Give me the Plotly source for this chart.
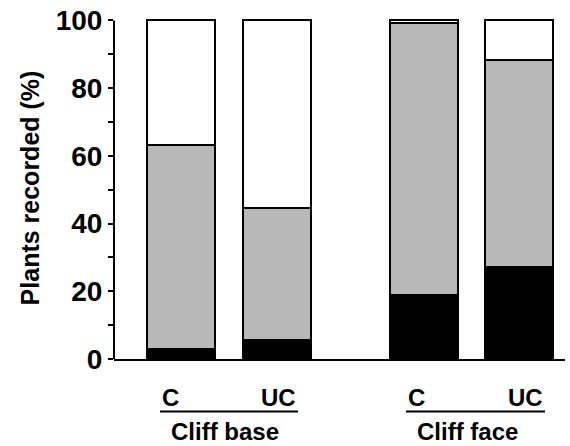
import plotly.graph_objects as go

# Data (percent of plants recorded)
groups = ["Cliff base", "Cliff base", "Cliff face", "Cliff face"]
sub_labels = ["C", "UC", "C", "UC"]
black_vals = [2.9, 5.5, 19.0, 27.2]
grey_vals = [60.4, 39.2, 80.2, 61.0]
white_vals = [36.7, 55.3, 0.8, 11.8]

y_ticks = [0, 20, 40, 60, 80, 100]

# layout positions (x coordinates of bars)
xpos = [0.71, 1.716, 3.263, 4.263]
bw = 0.716

fig = go.Figure()
for vals, col in [(black_vals, "#000000"), (grey_vals, "#b8b8b8"), (white_vals, "#ffffff")]:
    fig.add_trace(go.Bar(x=xpos, y=vals, width=bw, marker=dict(color=col, line=dict(color="#000000", width=2)),
                         showlegend=False, hoverinfo="skip"))

FONT = "Liberation Sans, Arial, sans-serif"

fig.update_layout(
    barmode="stack",
    width=570, height=446,
    margin=dict(l=114, r=5, t=14, b=87),
    plot_bgcolor="white", paper_bgcolor="white",
    xaxis=dict(range=[0, 4.747], showticklabels=False, ticks="", showgrid=False, zeroline=False,
               showline=True, linecolor="black", linewidth=2),
    yaxis=dict(range=[0, 101], showgrid=False, zeroline=False, showline=False,
               tickmode="array", tickvals=y_ticks, ticktext=[str(v) for v in y_ticks],
               ticks="outside", ticklen=5, tickwidth=2, tickcolor="black",
               tickfont=dict(family=FONT, size=28, color="black", weight="bold"),
               minor=dict(tickvals=[10, 30, 50, 70, 90], ticks="outside", ticklen=5, tickwidth=2, tickcolor="black"),
               title=dict(text="Plants recorded (%)", font=dict(family=FONT, size=25, color="black", weight="bold"),
                          standoff=8)),
)

# y axis line from 0 to 100
fig.add_shape(type="line", xref="paper", yref="y", x0=0, x1=0, y0=0, y1=100, line=dict(color="black", width=2))

def px2x(px):
    return (px - 114) / 95.0

def py2p(py):
    return (359 - py) / 345.0

# group underlines and labels
group_spans = [(160, 298, "Cliff base", 225), (406, 545, "Cliff face", 467)]
for i, (a, b, name, c) in enumerate(group_spans):
    fig.add_shape(type="line", xref="x", yref="paper", x0=px2x(a), x1=px2x(b), y0=py2p(412), y1=py2p(412),
                  line=dict(color="black", width=2))
    fig.add_annotation(x=px2x(c), y=py2p(432), xref="x", yref="paper", text=name, showarrow=False,
                       font=dict(family=FONT, size=24, color="black", weight="bold"), xanchor="center", yanchor="middle")
    fig.add_annotation(x=px2x(a), y=py2p(398), xref="x", yref="paper", text=sub_labels[2 * i], showarrow=False,
                       font=dict(family=FONT, size=24, color="black", weight="bold"), xanchor="left", yanchor="middle")
    fig.add_annotation(x=px2x(b), y=py2p(398), xref="x", yref="paper", text=sub_labels[2 * i + 1], showarrow=False,
                       font=dict(family=FONT, size=24, color="black", weight="bold"), xanchor="right", yanchor="middle")

fig.write_html("out.html")
